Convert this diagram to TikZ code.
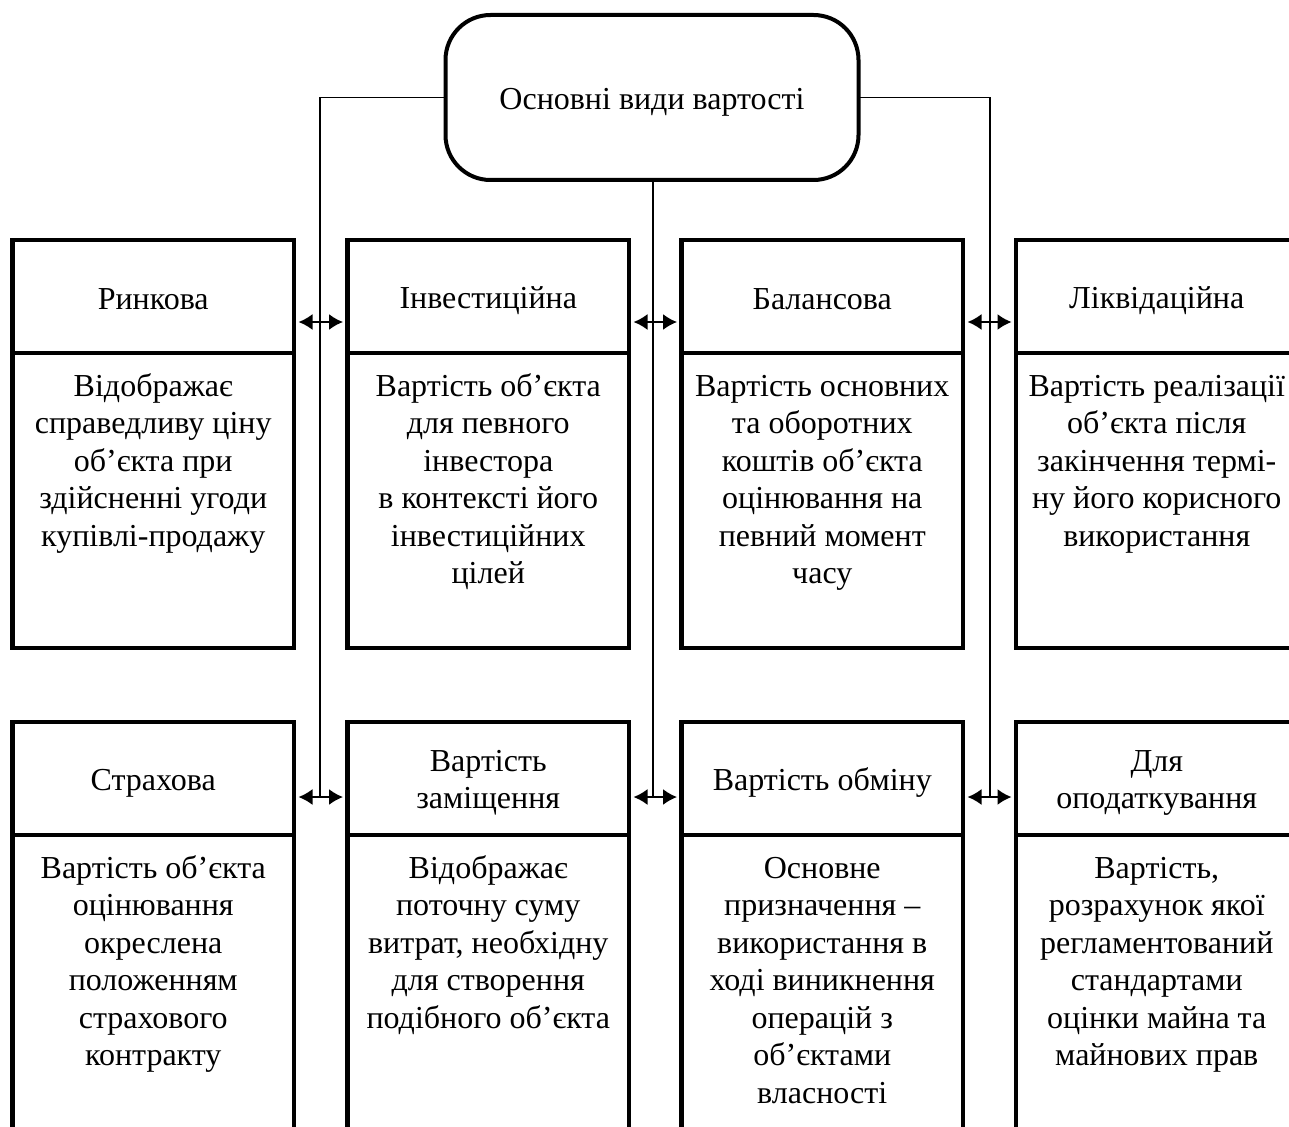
\documentclass[tikz,border=0pt]{standalone}
\usepackage{fontspec}
\setmainfont{Liberation Serif}
\usetikzlibrary{arrows.meta}
\newcommand\hs{\rule[-5pt]{0pt}{35pt}}
\tikzset{
  every node/.style={font=\fontsize{32}{37.5}\selectfont},
  topbox/.style={draw, line width=4pt, rounded corners=45pt, minimum width=413pt, minimum height=165pt, inner sep=0pt, outer sep=0pt},
  hdr/.style={draw, line width=4.5pt, minimum width=281.5pt, minimum height=113pt, inner sep=0pt, outer sep=0pt, align=center},
  bodybox/.style={draw, line width=4.5pt, minimum width=281.5pt, inner sep=0pt, outer sep=0pt},
  bodytxt/.style={anchor=north, inner sep=0pt, align=center},
  conn/.style={line width=1.6pt},
  dbl/.style={line width=1.8pt, {Latex[length=14pt,width=16pt]}-{Latex[length=14pt,width=16pt]}, shorten <=4.5pt, shorten >=4.5pt},
}
\begin{document}
\begin{tikzpicture}[x=1pt,y=-1pt]
\useasboundingbox (0,0) rectangle (1289,1126);
\fill[white] (0,0) rectangle (1289,1126);
\clip (0,0) rectangle (1289,1126);

\node[topbox] (top) at (652,97.5) {\hs Основні види вартості};

% top row
\node[hdr] (h1) at (153.25,296.5) {\hs Ринкова};
\node[hdr] (h2) at (488.25,296.5) {\hs Інвестиційна};
\node[hdr] (h3) at (822.25,296.5) {\hs Балансова};
\node[hdr] (h4) at (1156.75,296.5) {\hs Ліквідаційна};
\node[bodybox, minimum height=295pt] (b1) at (153.25,500.5) {};
\node[bodybox, minimum height=295pt] (b2) at (488.25,500.5) {};
\node[bodybox, minimum height=295pt] (b3) at (822.25,500.5) {};
\node[bodybox, minimum height=295pt] (b4) at (1156.75,500.5) {};
\node[bodytxt] (t1) at ([yshift=-17pt]b1.north) {\strut Відображає\\справедливу ціну\\об’єкта при\\здійсненні угоди\\купівлі-продажу};
\node[bodytxt] (t2) at ([yshift=-17pt]b2.north) {\strut Вартість об’єкта\\для певного\\інвестора\\в контексті його\\інвестиційних\\цілей};
\node[bodytxt] (t3) at ([yshift=-17pt]b3.north) {\strut Вартість основних\\та оборотних\\коштів об’єкта\\оцінювання на\\певний момент\\часу};
\node[bodytxt] (t4) at ([yshift=-17pt]b4.north) {\strut Вартість реалізації\\об’єкта після\\закінчення термі-\\ну його корисного\\використання};

% bottom row
\node[hdr] (h5) at (153.25,778.5) {\hs Страхова};
\node[hdr] (h6) at (488.25,778.5) {\hs Вартість\\\hs заміщення};
\node[hdr] (h7) at (822.25,778.5) {\hs Вартість обміну};
\node[hdr] (h8) at (1156.75,778.5) {\hs Для\\\hs оподаткування};
\node[bodybox, minimum height=365pt] (b5) at (153.25,1017.5) {};
\node[bodybox, minimum height=365pt] (b6) at (488.25,1017.5) {};
\node[bodybox, minimum height=365pt] (b7) at (822.25,1017.5) {};
\node[bodybox, minimum height=365pt] (b8) at (1156.75,1017.5) {};
\node[bodytxt] (t5) at ([yshift=-17pt]b5.north) {\strut Вартість об’єкта\\оцінювання\\окреслена\\положенням\\страхового\\контракту};
\node[bodytxt] (t6) at ([yshift=-17pt]b6.north) {\strut Відображає\\поточну суму\\витрат, необхідну\\для створення\\подібного об’єкта};
\node[bodytxt] (t7) at ([yshift=-17pt]b7.north) {\strut Основне\\призначення –\\використання в\\ході виникнення\\операцій з\\об’єктами\\власності};
\node[bodytxt] (t8) at ([yshift=-17pt]b8.north) {\strut Вартість,\\розрахунок якої\\регламентований\\стандартами\\оцінки майна та\\майнових прав};

% connector ends
\coordinate (c1) at (320,797);
\coordinate (c2) at (653,797);
\coordinate (c3) at (990,797);

\draw[conn] (top.west) -| (c1);
\draw[conn] (top.east) -| (c3);
\draw[conn] (top.south -| c2) -- (c2);

% double arrows
\draw[dbl] ([yshift=-25.5pt]h1.east) -- ([yshift=-25.5pt]h2.west);
\draw[dbl] ([yshift=-25.5pt]h2.east) -- ([yshift=-25.5pt]h3.west);
\draw[dbl] ([yshift=-25.5pt]h3.east) -- ([yshift=-25.5pt]h4.west);
\draw[dbl] ([yshift=-18.5pt]h5.east) -- ([yshift=-18.5pt]h6.west);
\draw[dbl] ([yshift=-18.5pt]h6.east) -- ([yshift=-18.5pt]h7.west);
\draw[dbl] ([yshift=-18.5pt]h7.east) -- ([yshift=-18.5pt]h8.west);
\end{tikzpicture}
\end{document}
